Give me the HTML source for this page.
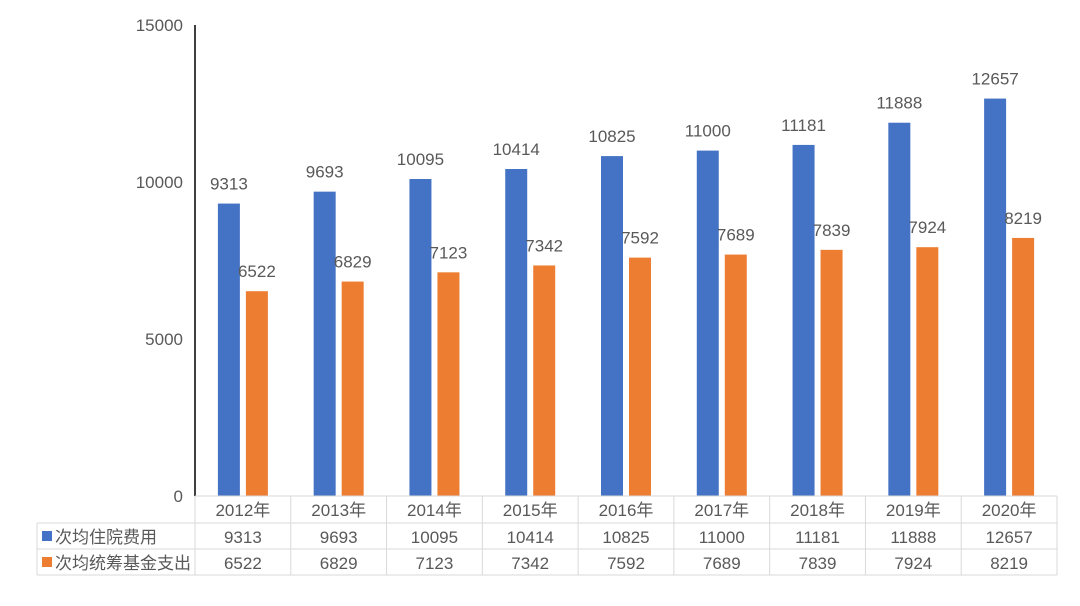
<!DOCTYPE html>
<html><head><meta charset="utf-8"><style>
body{margin:0;background:#fff;}
svg text{font-family:"Liberation Sans","Noto Sans CJK SC",sans-serif;fill:#595959;font-size:17px;}
</style></head><body>
<svg id="c" width="1080" height="601"></svg>
<script>
const categories=["2012年","2013年","2014年","2015年","2016年","2017年","2018年","2019年","2020年"];
const seriesNames=["次均住院费用","次均统筹基金支出"];
const hospCost=[9313,9693,10095,10414,10825,11000,11181,11888,12657];
const fundPay=[6522,6829,7123,7342,7592,7689,7839,7924,8219];
const yTicks=[0,5000,10000,15000];
const colors=["#4472c4","#ed7d31"];
const NS="http://www.w3.org/2000/svg";
const svg=document.getElementById('c');
const x0=195,x1=1057,y0=496,yTop=25,yMax=15000;
const cw=(x1-x0)/categories.length;
const y=v=>y0-(v/yMax)*(y0-yTop);
function el(t,a,txt){const e=document.createElementNS(NS,t);for(const k in a)e.setAttribute(k,a[k]);if(txt!==undefined)e.textContent=txt;svg.appendChild(e);return e;}
yTicks.forEach(t=>{const e=el('text',{x:183,y:y(t)+6,'text-anchor':'end'},t);

});
const series=[hospCost,fundPay];
series.forEach((s,si)=>{s.forEach((v,i)=>{
const cx=x0+cw*i+cw/2;const bx=si===0?cx-25:cx+3;
const r=el('rect',{x:bx,y:y(v),width:22,height:y0-y(v),fill:colors[si]});


const t=el('text',{x:bx+11,y:y(v)-14,'text-anchor':'middle'},v);


});});
const ax=el('line',{x1:x0,y1:yTop,x2:x0,y2:y0,stroke:'#000','stroke-width':1.5});


const g='#d9d9d9';
const rows=[496,523,549,575];
[[x0,496],[37,523],[37,549],[37,575]].forEach(([xs,yy])=>{el('line',{x1:xs,y1:yy,x2:x1,y2:yy,stroke:g});});
for(let i=0;i<=categories.length;i++){const xx=x0+cw*i;el('line',{x1:xx,y1:496,x2:xx,y2:575,stroke:g});}
el('line',{x1:37,y1:523,x2:37,y2:575,stroke:g});
categories.forEach((c,i)=>{const t=el('text',{x:x0+cw*i+cw/2,y:516,'text-anchor':'middle'},c);

});
series.forEach((s,si)=>{const ry=rows[si+1]+20;
const k=el('rect',{x:42,y:ry-12,width:10,height:10,fill:colors[si]});


const lt=el('text',{x:55,y:ry},seriesNames[si]);


s.forEach((v,i)=>{const t=el('text',{x:x0+cw*i+cw/2,y:ry,'text-anchor':'middle'},v);

});});
</script>
</body></html>
